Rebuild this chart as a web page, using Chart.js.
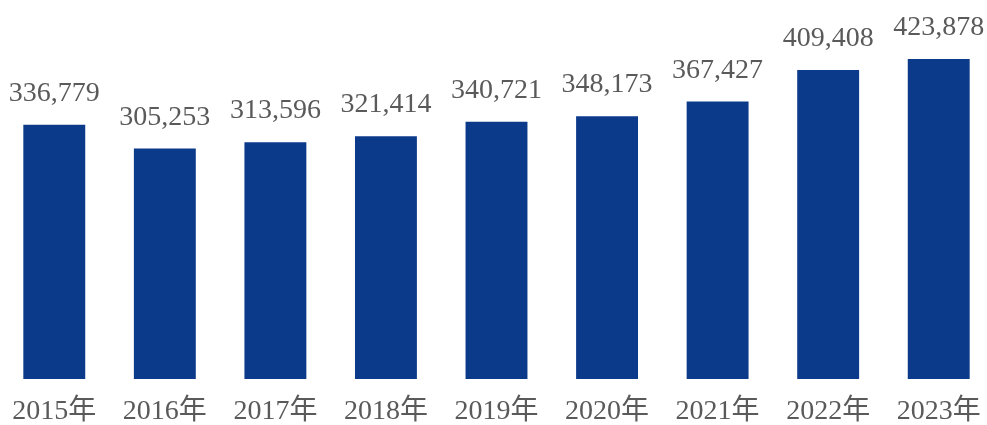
<!DOCTYPE html>
<html>
<head>
<meta charset="utf-8">
<script src="https://cdn.jsdelivr.net/npm/chart.js@4/dist/chart.umd.min.js"></script>
<style>
  html, body { margin: 0; padding: 0; background: #ffffff; overflow: hidden; }
  #chart { position: absolute; left: -1px; top: 0; }
</style>
</head>
<body>
<canvas id="chart" width="995" height="425"></canvas>
<script>
// Chart data
const years = ['2015年', '2016年', '2017年', '2018年', '2019年', '2020年', '2021年', '2022年', '2023年'];
const values = [336779, 305253, 313596, 321414, 340721, 348173, 367427, 409408, 423878];

const BAR_BLUE = '#0c3a8a';
const LABEL_GREY = '#5a5a5a';
const SERIF = '"Liberation Serif", "Times New Roman", "Noto Sans CJK SC", serif';

// Draw value labels above each bar
const valueLabels = {
  id: 'valueLabels',
  afterDatasetsDraw(chart) {
    const ctx = chart.ctx;
    const meta = chart.getDatasetMeta(0);
    ctx.save();
    ctx.fillStyle = LABEL_GREY;
    ctx.font = '28px ' + SERIF;
    ctx.textAlign = 'center';
    ctx.textBaseline = 'alphabetic';
    meta.data.forEach((bar, i) => {
      ctx.fillText(values[i].toLocaleString('en-US'), bar.x, bar.y - 24);
    });
    ctx.restore();
  }
};

new Chart(document.getElementById('chart'), {
  type: 'bar',
  data: {
    labels: years,
    datasets: [{
      data: values,
      backgroundColor: BAR_BLUE,
      borderWidth: 0,
      barPercentage: 0.56,
      categoryPercentage: 1
    }]
  },
  options: {
    responsive: false,
    animation: false,
    layout: { padding: 0, autoPadding: false },
    plugins: {
      legend: { display: false },
      tooltip: { enabled: false }
    },
    scales: {
      x: {
        grid: { display: false },
        border: { display: false },
        ticks: {
          color: LABEL_GREY,
          padding: 11,
          font: { family: SERIF, size: 28, lineHeight: 1 },
          maxRotation: 0,
          autoSkip: false
        },
        afterFit(scale) {
          scale.height = 46;
          scale.paddingLeft = 0;
          scale.paddingRight = 0;
        }
      },
      y: {
        display: false,
        min: 0,
        max: 502000
      }
    }
  },
  plugins: [valueLabels]
});
</script>
</body>
</html>
